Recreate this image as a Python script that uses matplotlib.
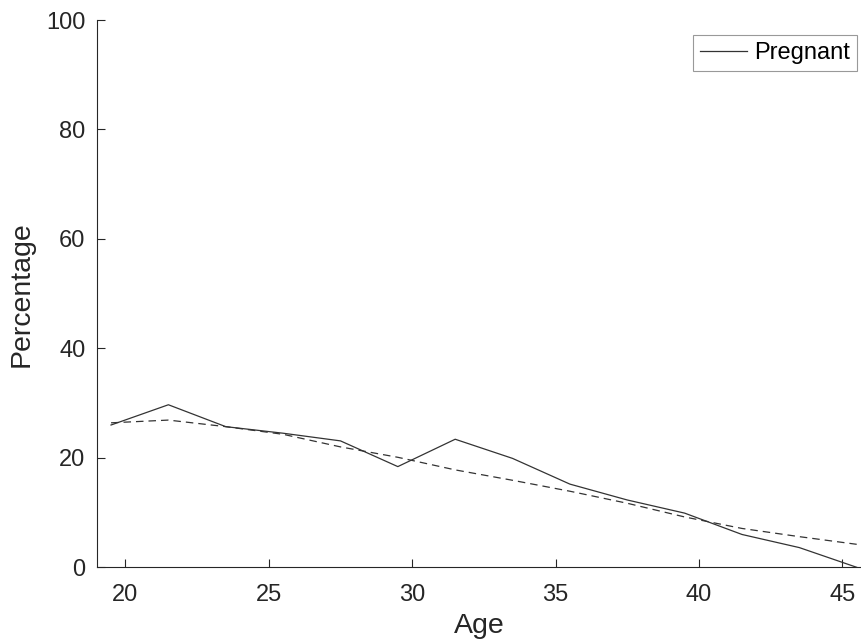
import matplotlib
matplotlib.use('Agg')
import matplotlib.pyplot as plt

# age bins (mid points)
age = [19.5, 21.5, 23.5, 25.5, 27.5, 29.5, 31.5, 33.5, 35.5, 37.5, 39.5, 41.5, 43.5, 45.5]

# observed percentage pregnant
pregnant = [26.0, 29.7, 25.7, 24.5, 23.1, 18.4, 23.4, 19.9, 15.2, 12.3, 9.9, 6.0, 3.6, 0.0]

# fitted curve
fitted = [26.4, 26.9, 25.7, 24.3, 22.0, 20.1, 17.8, 15.9, 13.9, 11.7, 9.2, 7.1, 5.6, 4.2]

xticks = [20, 25, 30, 35, 40, 45]
yticks = [0, 20, 40, 60, 80, 100]

plt.rcParams['font.family'] = ['Liberation Sans', 'DejaVu Sans']

fig = plt.figure(figsize=(8.61, 6.44), dpi=100)
ax = fig.add_axes([0.1123, 0.1191, 0.8877, 0.8498])

axcol = '#262626'
ax.plot(age, pregnant, color='#333333', lw=0.9, label='Pregnant')
ax.plot(age, fitted, color='#333333', lw=0.9, ls=(0, (6, 4)))

ax.set_xlim(19, 45.65)
ax.set_ylim(0, 100)
ax.set_xticks(xticks)
ax.set_yticks(yticks)
ax.tick_params(direction='in', length=6, width=0.8, colors=axcol, labelsize=17)
ax.tick_params(axis='x', pad=12)
ax.tick_params(axis='y', pad=8)
for s in ['top', 'right']:
    ax.spines[s].set_visible(False)
for s in ['left', 'bottom']:
    ax.spines[s].set_color(axcol)
    ax.spines[s].set_linewidth(0.8)

ax.set_xlabel('Age', fontsize=20.5, color=axcol, labelpad=5)
ax.set_ylabel('Percentage', fontsize=20.5, color=axcol, labelpad=8)

leg = ax.legend(loc='upper right', bbox_to_anchor=(0.995, 0.973), fontsize=17,
                frameon=True, fancybox=False, handlelength=2.0, handletextpad=0.3,
                borderpad=0.3, borderaxespad=0)
leg.get_frame().set_edgecolor('#808080')
leg.get_frame().set_linewidth(0.8)

fig.savefig('out.png', dpi=100)
